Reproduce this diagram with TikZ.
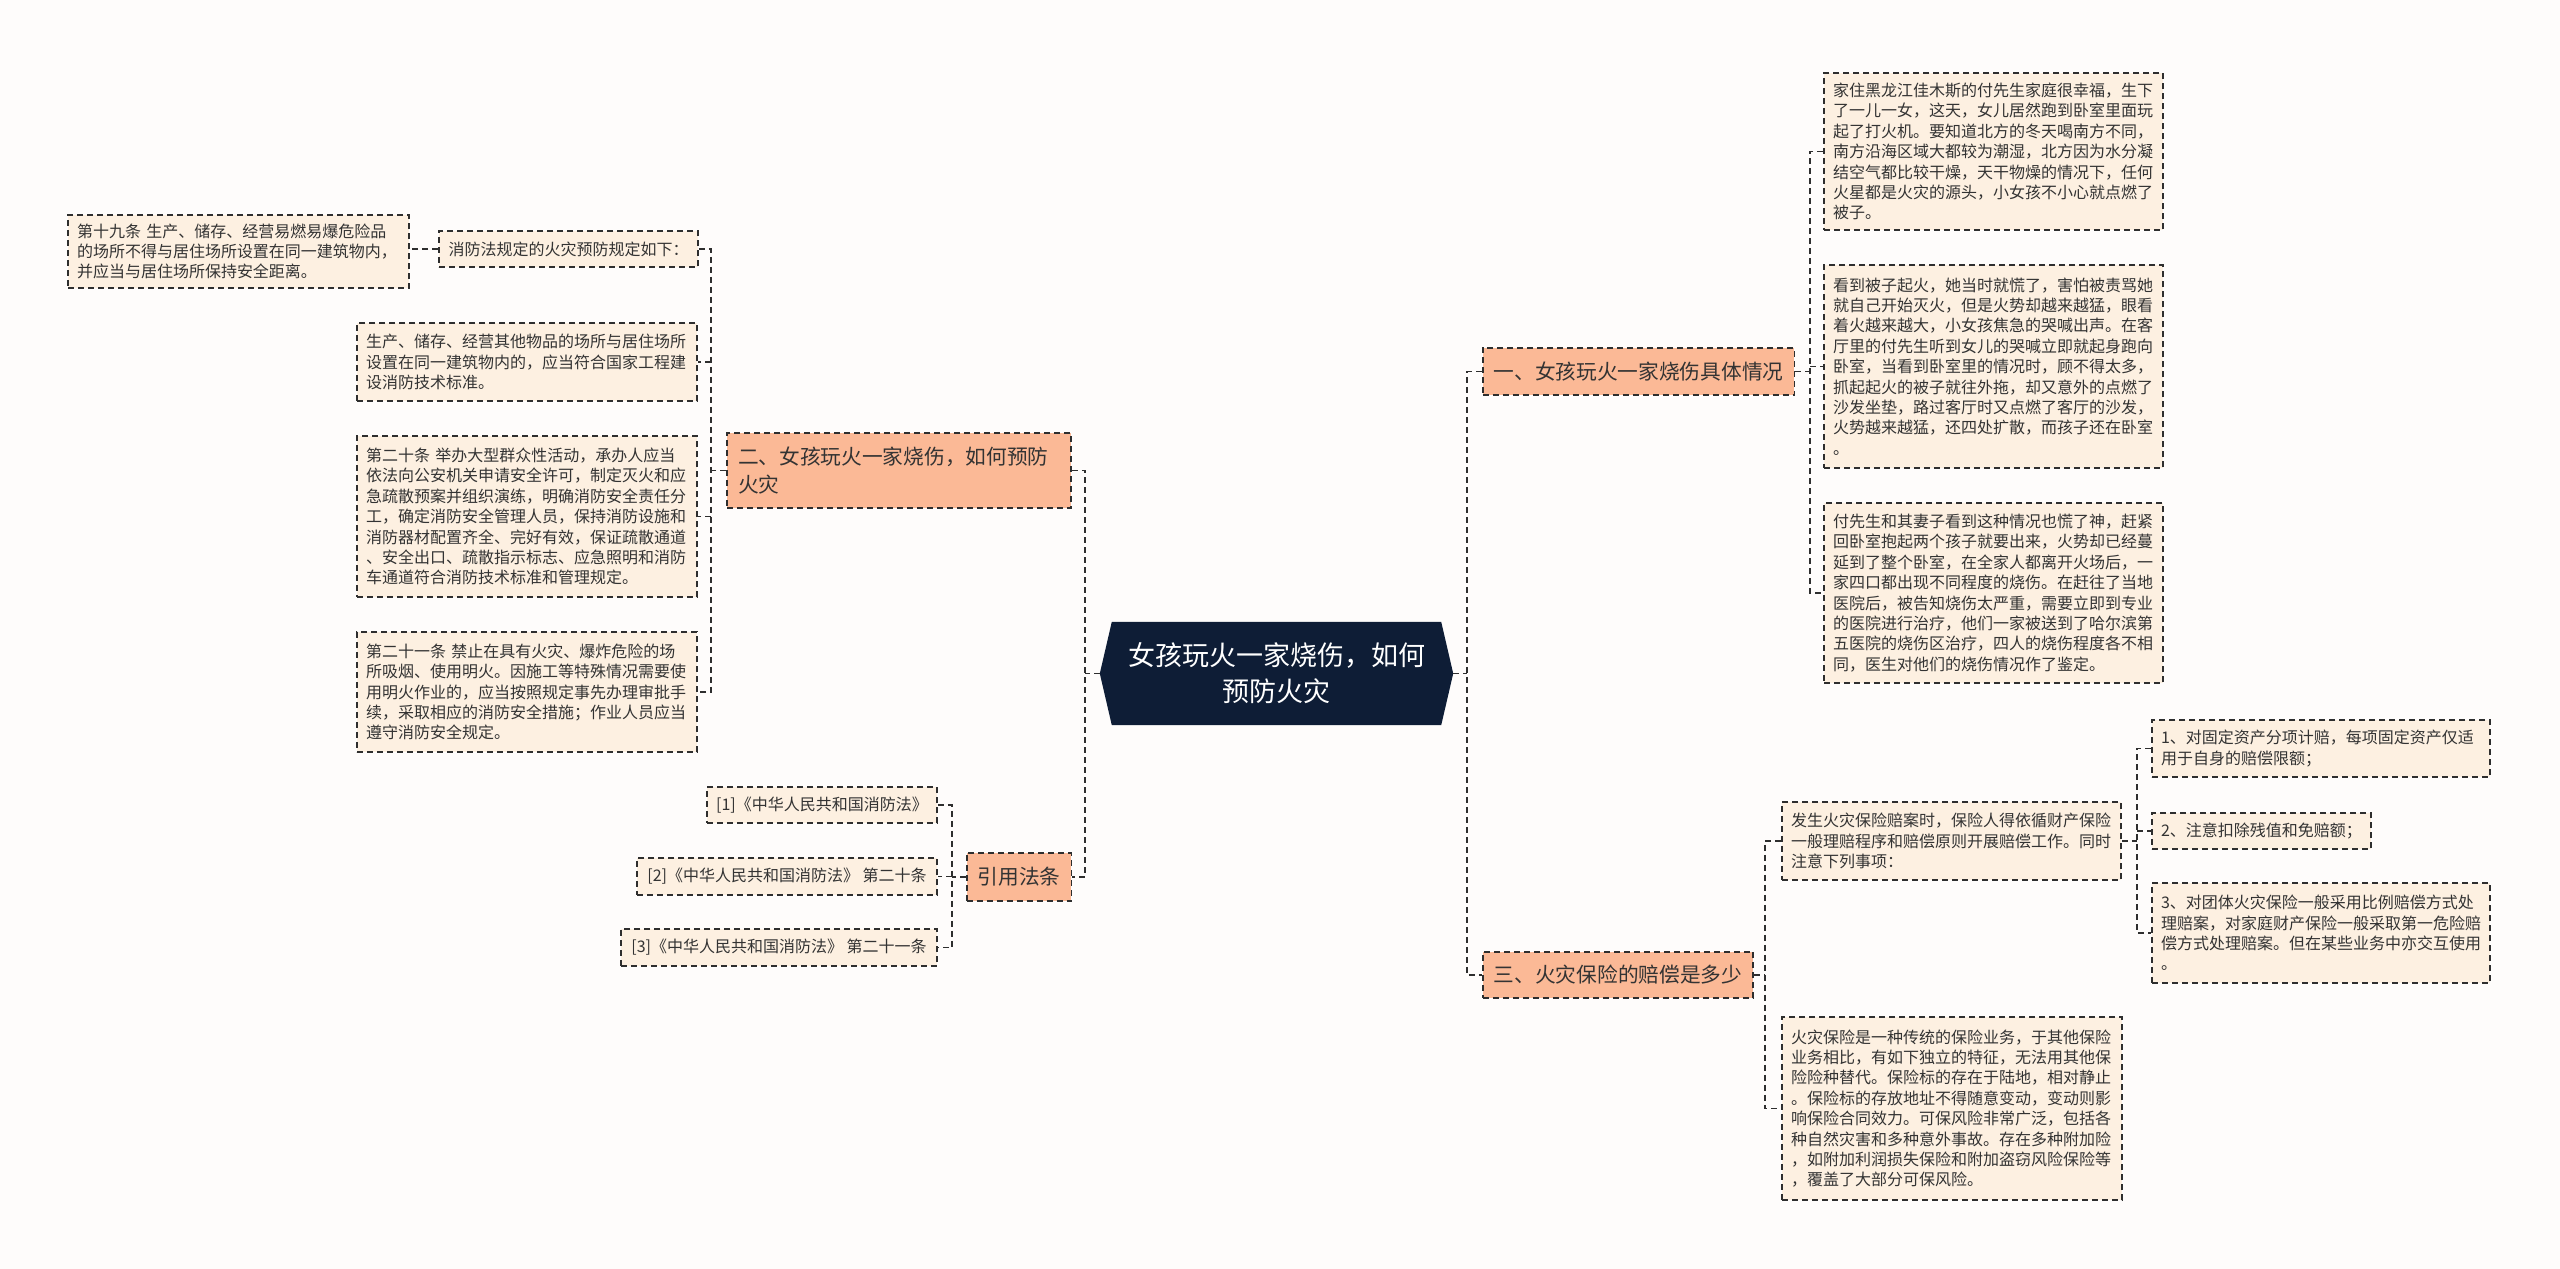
\documentclass[tikz,border=0pt]{standalone}
\usepackage{fontspec}
\setmainfont{Noto Sans CJK SC}
\usetikzlibrary{calc}
\definecolor{bgc}{HTML}{FEFCFB}
\definecolor{leaff}{HTML}{FDF0E1}
\definecolor{branchf}{HTML}{FBB996}
\definecolor{navy}{HTML}{0E1D36}
\definecolor{linec}{HTML}{2E2E2E}
\definecolor{txt}{HTML}{333333}
\tikzset{
 conn/.style={draw=linec, line width=1.8pt, dash pattern=on 6pt off 4pt},
 box/.style={draw=linec, line width=1.8pt, dash pattern=on 6pt off 4pt, text=txt, inner ysep=0pt, anchor=center},
 leaf/.style={box, fill=leaff, inner xsep=9pt, align=left, font=\fontsize{16pt}{20.4pt}\selectfont},
 branch/.style={box, fill=branchf, inner xsep=11pt, align=left, font=\fontsize{20.7pt}{28pt}\selectfont},
}
\begin{document}
\begin{tikzpicture}[x=1pt,y=-1pt]
\useasboundingbox (0,0) rectangle (2560,1269);
\fill[bgc] (0,0) rectangle (2560,1269);

% center
\node[minimum width=353pt, minimum height=103pt, inner sep=0pt] (c) at (1276.5,673.5) {};
\fill[navy] (c.west) -- ($(c.north west)+(12,0)$) -- ($(c.north east)+(-12,0)$) -- (c.east) -- ($(c.south east)+(-12,0)$) -- ($(c.south west)+(12,0)$) -- cycle;
\node[text=white, align=center, font=\fontsize{27pt}{36pt}\selectfont] (ct) at (c.center) {女孩玩火一家烧伤，如何\\预防火灾};

% right branches
\node[branch, minimum height=47pt] (b1) at (1638.5,371.5) {一、女孩玩火一家烧伤具体情况};
\node[branch, minimum height=46pt] (b3) at (1618,975) {三、火灾保险的赔偿是多少};

\node[leaf, text width=321pt, minimum height=157pt] (l1a) at (1993.5,151.5) {家住黑龙江佳木斯的付先生家庭很幸福，生下\\了一儿一女，这天，女儿居然跑到卧室里面玩\\起了打火机。要知道北方的冬天喝南方不同，\\南方沿海区域大都较为潮湿，北方因为水分凝\\结空气都比较干燥，天干物燥的情况下，任何\\火星都是火灾的源头，小女孩不小心就点燃了\\被子。};
\node[leaf, text width=321pt, minimum height=203pt] (l1b) at (1993.5,366.5) {看到被子起火，她当时就慌了，害怕被责骂她\\就自己开始灭火，但是火势却越来越猛，眼看\\着火越来越大，小女孩焦急的哭喊出声。在客\\厅里的付先生听到女儿的哭喊立即就起身跑向\\卧室，当看到卧室里的情况时，顾不得太多，\\抓起起火的被子就往外拖，却又意外的点燃了\\沙发坐垫，路过客厅时又点燃了客厅的沙发，\\火势越来越猛，还四处扩散，而孩子还在卧室\\。};
\node[leaf, text width=321pt, minimum height=180pt] (l1c) at (1993.5,593) {付先生和其妻子看到这种情况也慌了神，赶紧\\回卧室抱起两个孩子就要出来，火势却已经蔓\\延到了整个卧室，在全家人都离开火场后，一\\家四口都出现不同程度的烧伤。在赶往了当地\\医院后，被告知烧伤太严重，需要立即到专业\\的医院进行治疗，他们一家被送到了哈尔滨第\\五医院的烧伤区治疗，四人的烧伤程度各不相\\同，医生对他们的烧伤情况作了鉴定。};

\node[leaf, text width=321pt, minimum height=78pt] (l3a) at (1951.5,841) {发生火灾保险赔案时，保险人得依循财产保险\\一般理赔程序和赔偿原则开展赔偿工作。同时\\注意下列事项：};
\node[leaf, text width=322pt, minimum height=183pt] (l3b) at (1952,1108.5) {火灾保险是一种传统的保险业务，于其他保险\\业务相比，有如下独立的特征，无法用其他保\\险险种替代。保险标的存在于陆地，相对静止\\。保险标的存放地址不得随意变动，变动则影\\响保险合同效力。可保风险非常广泛，包括各\\种自然灾害和多种意外事故。存在多种附加险\\，如附加利润损失保险和附加盗窃风险保险等\\，覆盖了大部分可保风险。};

\node[leaf, text width=320pt, minimum height=57pt] (l3a1) at (2321,748.5) {1、对固定资产分项计赔，每项固定资产仅适\\用于自身的赔偿限额；};
\node[leaf, minimum width=219pt, minimum height=36pt] (l3a2) at (2261.5,831) {2、注意扣除残值和免赔额；};
\node[leaf, text width=320pt, minimum height=100pt] (l3a3) at (2321,933) {3、对团体火灾保险一般采用比例赔偿方式处\\理赔案，对家庭财产保险一般采取第一危险赔\\偿方式处理赔案。但在某些业务中亦交互使用\\。};

% left branches
\node[branch, text width=322pt, minimum height=75pt] (b2) at (899,470.5) {二、女孩玩火一家烧伤，如何预防\\火灾};
\node[branch, minimum height=48pt] (b4) at (1019,877) {引用法条};

\node[leaf, minimum width=259pt, minimum height=36pt] (l2a) at (568.5,249) {消防法规定的火灾预防规定如下：};
\node[leaf, text width=323pt, minimum height=73pt] (l2a1) at (238.5,251.5) {第十九条 生产、储存、经营易燃易爆危险品\\的场所不得与居住场所设置在同一建筑物内，\\并应当与居住场所保持安全距离。};
\node[leaf, text width=322pt, minimum height=78pt] (l2b) at (527,362) {生产、储存、经营其他物品的场所与居住场所\\设置在同一建筑物内的，应当符合国家工程建\\设消防技术标准。};
\node[leaf, text width=322pt, minimum height=161pt] (l2c) at (527,516.5) {第二十条 举办大型群众性活动，承办人应当\\依法向公安机关申请安全许可，制定灭火和应\\急疏散预案并组织演练，明确消防安全责任分\\工，确定消防安全管理人员，保持消防设施和\\消防器材配置齐全、完好有效，保证疏散通道\\、安全出口、疏散指示标志、应急照明和消防\\车通道符合消防技术标准和管理规定。};
\node[leaf, text width=322pt, minimum height=120pt] (l2d) at (527,692) {第二十一条 禁止在具有火灾、爆炸危险的场\\所吸烟、使用明火。因施工等特殊情况需要使\\用明火作业的，应当按照规定事先办理审批手\\续，采取相应的消防安全措施；作业人员应当\\遵守消防安全规定。};

\node[leaf, minimum width=230pt, minimum height=36pt] (l4a) at (822,805) {[1]《中华人民共和国消防法》};
\node[leaf, minimum width=300pt, minimum height=37pt] (l4b) at (787,876.5) {[2]《中华人民共和国消防法》 第二十条};
\node[leaf, minimum width=316pt, minimum height=37pt] (l4c) at (779,947.5) {[3]《中华人民共和国消防法》 第二十一条};

% trunk coordinates
\coordinate (tR) at (1467,673.5);
\coordinate (tL) at (1085,673.5);
\coordinate (t1) at (1810,371.5);
\coordinate (t3) at (1765,975);
\coordinate (t3a) at (2137,841);
\coordinate (t2) at (711,470.5);
\coordinate (t4) at (952,877);

% connectors
\draw[conn] (c.east) -- (c.east -| tR);
\draw[conn] (b1.west) -| (tR) |- (b3.west);
\draw[conn] (c.west) -- (c.west -| tL);
\draw[conn] (b2.east) -| (tL) |- (b4.east);

\draw[conn] (b1.east) -- (b1.east -| t1);
\draw[conn] (l1a.west) -| (t1) |- (l1c.west);
\draw[conn] (l1b.west -| t1) -- (l1b.west);

\draw[conn] (b3.east) -- (b3.east -| t3);
\draw[conn] (l3a.west) -| (t3) |- (l3b.west);

\draw[conn] (l3a.east) -- (l3a.east -| t3a);
\draw[conn] (l3a1.west) -| (t3a) |- (l3a3.west);
\draw[conn] (l3a2.west -| t3a) -- (l3a2.west);

\draw[conn] (b2.west) -- (b2.west -| t2);
\draw[conn] (l2a.east) -| (t2) |- (l2d.east);
\draw[conn] (l2b.east -| t2) -- (l2b.east);
\draw[conn] (l2c.east -| t2) -- (l2c.east);
\draw[conn] (l2a.west) -- (l2a.west -| l2a1.east);

\draw[conn] (b4.west) -- (b4.west -| t4);
\draw[conn] (l4a.east) -| (t4) |- (l4c.east);
\draw[conn] (l4b.east -| t4) -- (l4b.east);
\end{tikzpicture}
\end{document}
